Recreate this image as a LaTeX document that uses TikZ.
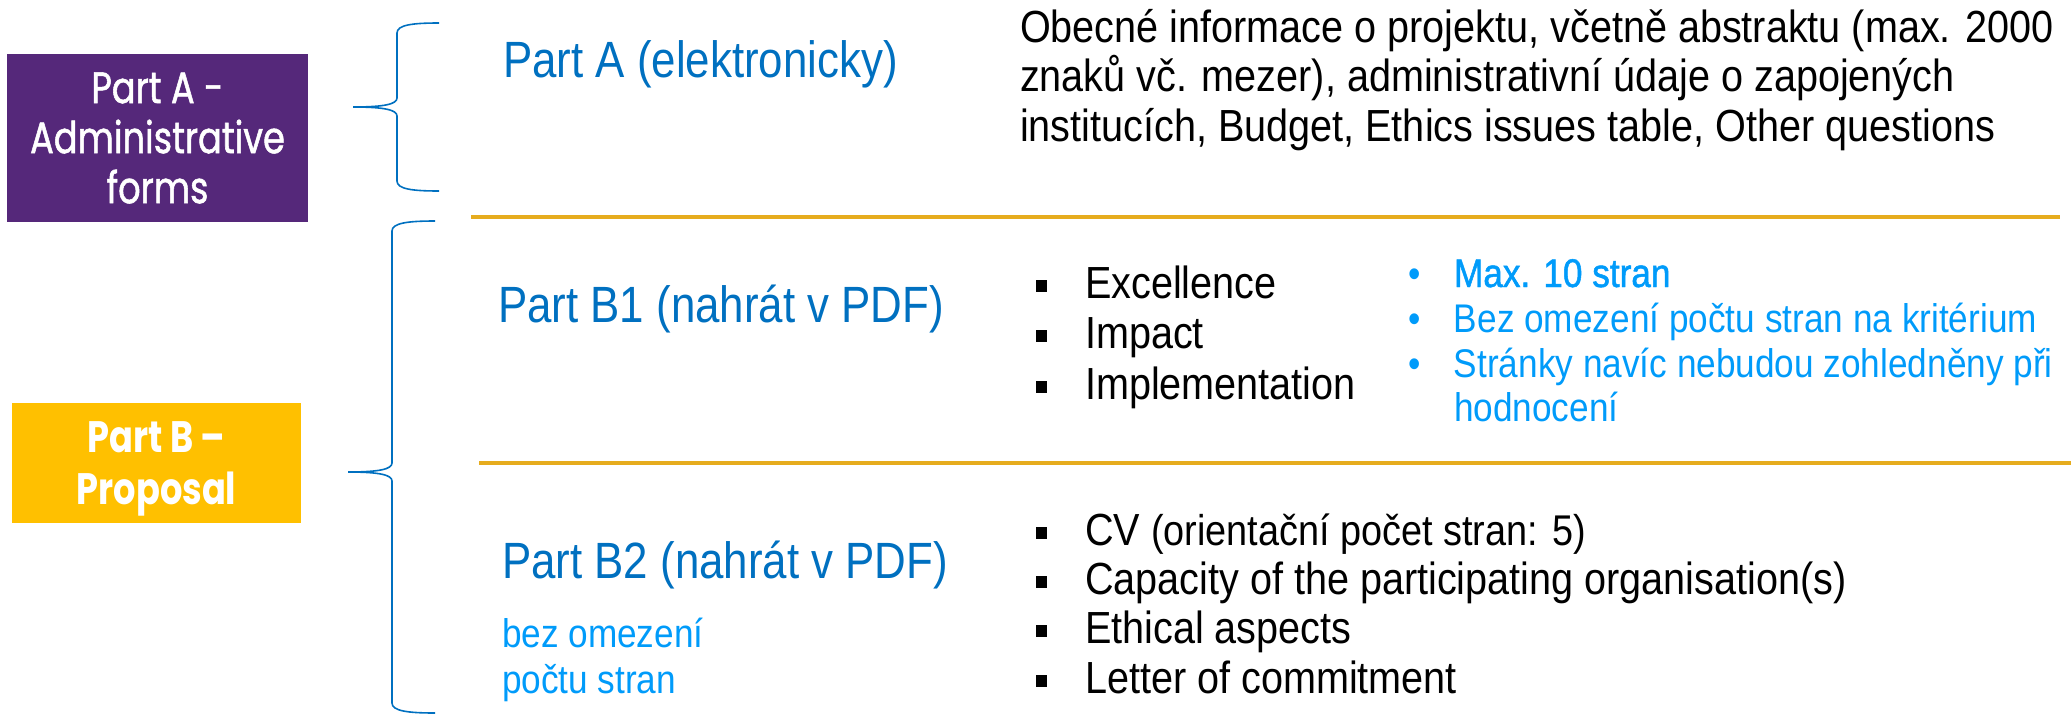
\documentclass[tikz,border=0pt]{standalone}
\usepackage{fontspec}
\setmainfont[FakeStretch=0.88]{Liberation Sans}
\newfontfamily\headfont[FakeStretch=0.86]{Liberation Sans}
\newfontfamily\notebold[FakeStretch=0.88,FakeBold=1.2]{Liberation Sans}
\newfontfamily\boxfont[FakeStretch=0.8,FakeBold=1.2]{Poppins}
\newfontfamily\boxboldfont[FakeStretch=0.8]{Poppins Bold}
\usepackage{tikz}
\definecolor{partA}{RGB}{85,40,122}
\definecolor{partB}{RGB}{255,192,0}
\definecolor{darkblue}{RGB}{0,112,192}
\definecolor{lightblue}{RGB}{0,155,250}
\definecolor{rulecol}{RGB}{230,172,30}
\newcommand{\sqb}{\makebox[24.5pt][l]{\rule[2.8pt]{5.5pt}{6pt}}}
\newcommand{\dotb}{\makebox[23pt][l]{\textbullet}}

\begin{document}
\begin{tikzpicture}[x=0.5pt,y=-0.5pt,
       every node/.style={inner sep=0pt,outer sep=0pt},
       brace/.style={draw=darkblue,line width=0.8pt},
       divider/.style={draw=rulecol,line width=1.6pt},
       partbox/.style={anchor=north west,text=white,align=center,font=\boxfont\fontsize{22}{25}\selectfont},
       heading/.style={anchor=base west,text=darkblue,font=\headfont\fontsize{25.5}{26}\selectfont},
       body/.style={anchor=base west,font=\fontsize{22.5}{25}\selectfont},
       note/.style={anchor=base west,text=lightblue,font=\fontsize{20}{22}\selectfont}]
       \useasboundingbox (0,0) rectangle (2071,718);
       % left boxes
       \node[partbox,fill=partA,minimum width=150.5pt,minimum height=84pt] (boxA) at (7,54) {Part A -\\Administrative\\forms};
       \node[partbox,fill=partB,minimum width=144.5pt,minimum height=60pt,text depth=0pt,font=\boxboldfont\fontsize{22}{26}\selectfont] (boxB) at (12,403) {Part B –\\Proposal};
       % braces
       \draw[brace] (439,23) .. controls (412,23) and (397,25) .. (397,33) -- (397,98)
                    .. controls (397,104) and (385,107) .. (353,107)
                    .. controls (385,107) and (397,110) .. (397,116) -- (397,181)
                    .. controls (397,189) and (412,191) .. (439,191);
       \draw[brace] (435,221) .. controls (408,221) and (392,223) .. (392,231) -- (392,463)
                    .. controls (392,469) and (380,472) .. (348,472)
                    .. controls (380,472) and (392,475) .. (392,481) -- (392,703)
                    .. controls (392,711) and (408,713) .. (435,713);
       % dividers
       \draw[divider] (471,217) -- (2060,217);
       \draw[divider] (479,463) -- (2071,463);
       % part A
       \node[heading] (headA) at (503,77) {Part A (elektronicky)};
       \node[body] (infoA1) at (1020,42)  {Obecné informace o projektu, včetně abstraktu (max. 2000};
       \node[body] (infoA2) at (1020,91)  {znaků vč. mezer), administrativní údaje o zapojených};
       \node[body] (infoA3) at (1020,141) {institucích, Budget, Ethics issues table, Other questions};
       % part B1
       \node[heading] (headB1) at (498,322) {Part B1 (nahrát v PDF)};
       \node[body] (crit1) at (1036,298) {\sqb Excellence};
       \node[body] (crit2) at (1036,348) {\sqb Impact};
       \node[body] (crit3) at (1036,399) {\sqb Implementation};
       \node[note] (rule1) at (1408,287) {\dotb{\notebold Max. 10 stran}};
       \node[note] (rule2) at (1408,332) {\dotb Bez omezení počtu stran na kritérium};
       \node[note] (rule3) at (1408,377) {\dotb Stránky navíc nebudou zohledněny při};
       \node[note] (rule4) at (1454,421) {hodnocení};
       % part B2
       \node[heading] (headB2) at (502,578) {Part B2 (nahrát v PDF)};
       \node[note] (limB1) at (502,647) {bez omezení};
       \node[note] (limB2) at (502,693) {počtu stran};
       \node[body] (annex1) at (1036,545) {\sqb CV {\fontsize{21.5}{25}\selectfont(orientační počet stran: 5)}};
       \node[body] (annex2) at (1036,594) {\sqb Capacity of the participating organisation(s)};
       \node[body] (annex3) at (1036,643) {\sqb Ethical aspects};
       \node[body] (annex4) at (1036,693) {\sqb Letter of commitment};
\end{tikzpicture}
\end{document}
